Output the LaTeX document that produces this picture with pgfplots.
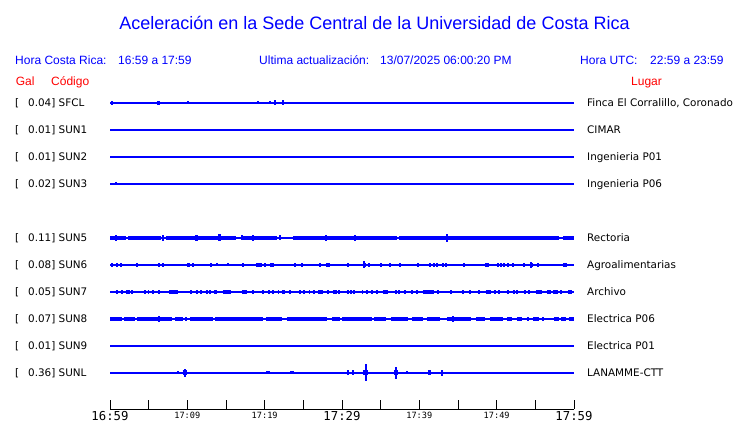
\documentclass[border=0pt]{standalone}
\usepackage{fontspec}
\setmainfont{DejaVu Sans}
\newfontfamily\arialf{Liberation Sans}
\newfontfamily\monof{DejaVu Sans Mono}
\usepackage{pgfplots}
\usepackage{pgfplotstable}
\pgfplotsset{compat=1.18}

% ---------- thin spikes: t (minutes after 16:59), half amplitude a ----------
\pgfplotstableread{
t a
0.26 2
6.21 2
6.34 2
10.09 1.5
19.14 1.5
20.69 1.5
21.34 2.5
22.37 2.5
}\spSFCL
\pgfplotstableread{
t a
0.78 1.5
}\spSUNc
\pgfplotstableread{
t a
0.78 3
6.85 3
11.12 3.2
11.25 3.2
14.09 3.5
14.22 3.5
17.07 2.5
18.49 3.2
21.98 2.5
27.93 3.2
31.68 3
43.58 3.8
}\spSUNe
\pgfplotstableread{
t a
0.26 2
1.42 2
3.49 2
6.34 2
10.73 2
13.06 2
13.84 1.5
15.26 1.5
17.20 2
19.01 2
19.27 2
19.53 2
20.82 2
21.08 2
23.92 2
27.16 2
28.06 2
28.32 2
30.78 2
32.84 3.5
33.49 2
35.04 2
37.50 2
41.38 2
41.90 2
42.28 2
43.06 2
43.45 2
45.78 2
50.17 2
50.56 2
51.47 2
52.11 2
53.53 2
54.44 3
55.34 2
58.96 2
}\spSUNf
\pgfplotstableread{
t a
0.91 1.8
2.20 1.8
2.46 1.8
2.84 1.8
4.53 1.8
6.34 1.8
10.47 1.8
11.25 1.8
11.77 1.8
12.54 1.8
12.93 1.8
18.49 1.8
20.56 1.8
21.08 1.8
23.28 1.8
24.57 1.8
25.09 1.8
26.38 1.8
28.19 1.8
29.22 1.8
29.61 1.8
30.78 1.8
31.16 1.8
31.55 1.8
33.23 1.8
33.88 1.8
34.53 1.8
36.98 1.8
37.37 1.8
38.15 1.8
39.05 1.8
46.55 1.8
47.72 1.8
49.78 1.8
50.30 1.8
52.24 1.8
52.63 1.8
53.66 1.8
54.18 1.8
56.64 1.8
56.90 1.8
58.32 1.8
59.35 1.8
59.61 1.8
}\spSUNg
\pgfplotstableread{
t a
6.34 3
44.35 3
}\spSUNh
\pgfplotstableread{
t a
8.79 1.5
9.70 4
11.25 1
20.30 1.5
20.56 1.5
23.41 1.5
23.66 1.5
27.41 1
28.45 1
33.10 8.5
36.08 1
36.98 6
38.41 1.5
42.93 3
56.77 1
}\spSUNL

% ---------- thick stretches: from a to b (minutes) ----------
\pgfplotstableread{
a b
0 2.07
2.33 6.59
7.24 16.29
16.94 21.59
23.66 37.11
37.37 58.06
58.58 60
}\bdSUNe
\pgfplotstableread{
a b
0.78 1.03
6.72 6.98
9.96 10.34
19.91 20.17
24.70 24.96
32.72 33.10
36.08 36.34
39.70 39.96
48.49 49.01
50.82 51.08
54.31 54.70
58.58 58.84
}\bdSUNf
\pgfplotstableread{
a b
1.42 1.68
4.91 5.04
5.43 5.69
7.63 8.79
13.45 13.84
14.61 15.65
17.07 17.72
19.66 19.91
21.72 21.85
22.24 22.63
25.73 25.86
26.90 27.54
28.84 29.09
32.59 32.72
35.30 35.95
39.57 39.83
40.47 41.90
42.28 42.54
43.97 44.22
45.52 45.78
48.62 49.27
51.34 51.59
55.09 55.86
57.28 57.93
}\bdSUNg
\pgfplotstableread{
a b
0 1.55
1.81 3.23
3.49 8.02
8.41 9.44
9.70 9.96
10.34 13.32
13.58 19.78
20.17 22.24
22.89 28.06
28.71 29.74
30.00 33.88
34.14 35.69
36.34 38.53
39.05 40.47
40.99 42.67
43.58 46.68
47.33 48.49
49.14 50.82
51.34 51.98
52.63 53.28
53.92 54.18
54.70 55.47
55.86 56.12
57.41 58.06
58.32 58.96
59.35 60
}\bdSUNh
\pgfplotstableread{
a b
9.40 10.00
30.65 30.91
31.29 31.55
32.72 33.36
36.72 37.24
41.12 41.51
42.80 43.06
}\bdSUNL

\pgfplotsset{
  spk/.style={draw=none, mark=none, forget plot,
    error bars/.cd, y dir=both, y explicit, error mark=none,
    error bar style={draw=blue, line width=1.1bp}},
  blb/.style={draw=none, mark=none, forget plot,
    error bars/.cd, x dir=plus, x explicit, error mark=none,
    error bar style={draw=blue, line width=#1}},
  base/.style={blue, line width=1.25bp, mark=none, forget plot},
}
\newcommand{\bigt}[1]{{\monof\fontsize{12.3bp}{12bp}\selectfont #1}}
\newcommand{\smt}[1]{\raisebox{1.6bp}{\monof\fontsize{8.6bp}{9bp}\selectfont #1}}

\begin{document}
\begin{tikzpicture}
\path[use as bounding box] (-110bp,-14bp) rectangle (630bp,409bp);
\begin{axis}[
  scale only axis, width=464bp, height=319.5bp,
  xmin=0, xmax=60, ymin=0, ymax=319.5,
  clip=false,
  axis x line*=bottom, axis y line=none,
  axis line style={black, line width=1bp},
  xtick={0,5,...,60},
  xticklabels={\bigt{16:59},,\smt{17:09},,\smt{17:19},,\bigt{17:29},,\smt{17:39},,\smt{17:49},,\bigt{17:59}},
  xtick align=inside, major tick length=9bp,
  every tick/.style={black, line width=1bp},
  xticklabel style={anchor=base, yshift=-11.5bp, inner sep=0pt},
  ytick=\empty,
]
% base lines
\addplot[base] coordinates {(0,306) (60,306)};
\addplot[base] coordinates {(0,279) (60,279)};
\addplot[base] coordinates {(0,252) (60,252)};
\addplot[base] coordinates {(0,225) (60,225)};
\addplot[base] coordinates {(0,171) (60,171)};
\addplot[base] coordinates {(0,144) (60,144)};
\addplot[base] coordinates {(0,117) (60,117)};
\addplot[base] coordinates {(0,90) (60,90)};
\addplot[base] coordinates {(0,63) (60,63)};
\addplot[base] coordinates {(0,36) (60,36)};
% thick stretches
\addplot[blb=4.2bp] table[x=a, y expr=171, x error plus expr=\thisrow{b}-\thisrow{a}] {\bdSUNe};
\addplot[blb=3.5bp] table[x=a, y expr=144, x error plus expr=\thisrow{b}-\thisrow{a}] {\bdSUNf};
\addplot[blb=3.5bp] table[x=a, y expr=117, x error plus expr=\thisrow{b}-\thisrow{a}] {\bdSUNg};
\addplot[blb=4bp] table[x=a, y expr=90, x error plus expr=\thisrow{b}-\thisrow{a}] {\bdSUNh};
\addplot[blb=5bp] table[x=a, y expr=36, x error plus expr=\thisrow{b}-\thisrow{a}] {\bdSUNL};
% spikes
\addplot[spk] table[x=t, y expr=306, y error=a] {\spSFCL};
\addplot[spk] table[x=t, y expr=225, y error=a] {\spSUNc};
\addplot[spk] table[x=t, y expr=171, y error=a] {\spSUNe};
\addplot[spk] table[x=t, y expr=144, y error=a] {\spSUNf};
\addplot[spk] table[x=t, y expr=117, y error=a] {\spSUNg};
\addplot[spk] table[x=t, y expr=90, y error=a] {\spSUNh};
\addplot[spk] table[x=t, y expr=36, y error=a] {\spSUNL};
\end{axis}

% ---------- header ----------
\node[anchor=base, inner sep=0pt, text=blue, font=\arialf\fontsize{18bp}{20bp}\selectfont]
  at (264.5bp,379bp) {Aceleración en la Sede Central de la Universidad de Costa Rica};
\begin{scope}[every node/.style={anchor=base west, inner sep=0pt, font=\arialf\fontsize{12bp}{14bp}\selectfont}]
\node[text=blue] at (-95bp,344.2bp) {Hora Costa Rica:};
\node[text=blue] at (8bp,344.2bp) {16:59 a 17:59};
\node[text=blue] at (149bp,344.2bp) {Ultima actualización:};
\node[text=blue] at (270bp,344.2bp) {13/07/2025 06:00:20 PM};
\node[text=blue] at (470bp,344.2bp) {Hora UTC:};
\node[text=blue] at (540bp,344.2bp) {22:59 a 23:59};
\node[text=red] at (-94.4bp,323.2bp) {Gal};
\node[text=red] at (-59bp,323.2bp) {Código};
\node[text=red] at (521bp,323.2bp) {Lugar};
\end{scope}

% ---------- station labels ----------
\begin{scope}[every node/.style={anchor=base west, inner sep=0pt, font=\fontsize{10.4bp}{12bp}\selectfont}]
\node at (-95bp,302.2bp) {[}; \node at (-82bp,302.2bp) {0.04] SFCL}; \node at (477bp,302.2bp) {Finca El Corralillo, Coronado};
\node at (-95bp,275.2bp) {[}; \node at (-82bp,275.2bp) {0.01] SUN1}; \node at (477bp,275.2bp) {CIMAR};
\node at (-95bp,248.2bp) {[}; \node at (-82bp,248.2bp) {0.01] SUN2}; \node at (477bp,248.2bp) {Ingenieria P01};
\node at (-95bp,221.2bp) {[}; \node at (-82bp,221.2bp) {0.02] SUN3}; \node at (477bp,221.2bp) {Ingenieria P06};
\node at (-95bp,167.2bp) {[}; \node at (-82bp,167.2bp) {0.11] SUN5}; \node at (477bp,167.2bp) {Rectoria};
\node at (-95bp,140.2bp) {[}; \node at (-82bp,140.2bp) {0.08] SUN6}; \node at (477bp,140.2bp) {Agroalimentarias};
\node at (-95bp,113.2bp) {[}; \node at (-82bp,113.2bp) {0.05] SUN7}; \node at (477bp,113.2bp) {Archivo};
\node at (-95bp,86.2bp) {[}; \node at (-82bp,86.2bp) {0.07] SUN8}; \node at (477bp,86.2bp) {Electrica P06};
\node at (-95bp,59.2bp) {[}; \node at (-82bp,59.2bp) {0.01] SUN9}; \node at (477bp,59.2bp) {Electrica P01};
\node at (-95bp,32.2bp) {[}; \node at (-82bp,32.2bp) {0.36] SUNL}; \node at (477bp,32.2bp) {LANAMME-CTT};
\end{scope}
\end{tikzpicture}
\end{document}
